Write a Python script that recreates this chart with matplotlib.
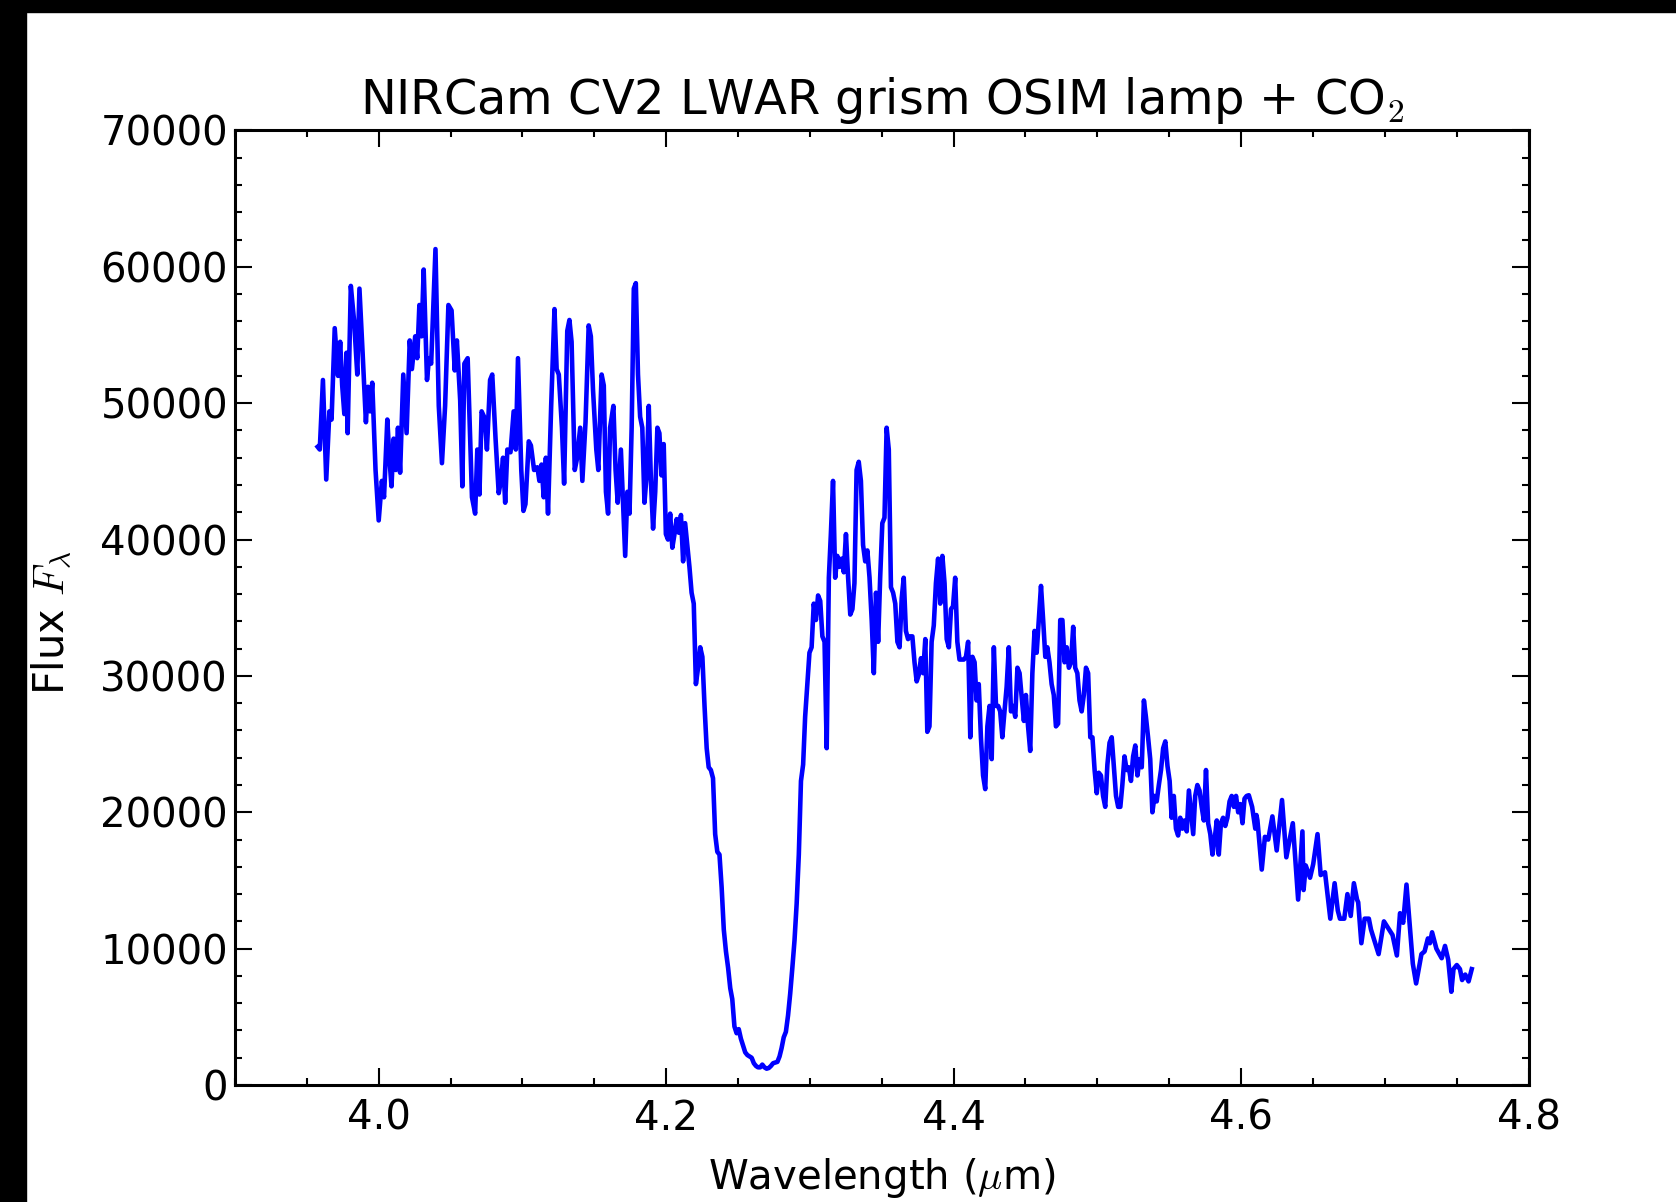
import matplotlib
matplotlib.use("Agg")
import matplotlib.pyplot as plt
from matplotlib.patches import Rectangle
from matplotlib.ticker import MultipleLocator

# Espectro (longitud de onda en micrones, flujo)
wavelength = [
    3.9575, 3.9590, 3.9612, 3.9635, 3.9657, 3.9672, 3.9694, 3.9717, 3.9732, 3.9746,
    3.9761, 3.9776, 3.9784, 3.9806, 3.9829, 3.9851, 3.9866, 3.9888, 3.9911, 3.9925,
    3.9940, 3.9955, 3.9978, 4.0000, 4.0022, 4.0037, 4.0060, 4.0075, 4.0089, 4.0104,
    4.0119, 4.0134, 4.0149, 4.0171, 4.0194, 4.0216, 4.0231, 4.0254, 4.0268, 4.0283,
    4.0298, 4.0313, 4.0336, 4.0350, 4.0365, 4.0395, 4.0418, 4.0440, 4.0462, 4.0485,
    4.0507, 4.0529, 4.0544, 4.0567, 4.0582, 4.0596, 4.0619, 4.0649, 4.0671, 4.0686,
    4.0701, 4.0716, 4.0738, 4.0753, 4.0775, 4.0790, 4.0813, 4.0835, 4.0850, 4.0865,
    4.0880, 4.0895, 4.0917, 4.0939, 4.0954, 4.0969, 4.0992, 4.1007, 4.1021, 4.1044,
    4.1059, 4.1081, 4.1104, 4.1118, 4.1133, 4.1148, 4.1163, 4.1178, 4.1200, 4.1223,
    4.1238, 4.1253, 4.1275, 4.1290, 4.1312, 4.1327, 4.1342, 4.1364, 4.1379, 4.1402,
    4.1417, 4.1439, 4.1461, 4.1476, 4.1491, 4.1514, 4.1528, 4.1551, 4.1566, 4.1581,
    4.1596, 4.1610, 4.1633, 4.1648, 4.1663, 4.1685, 4.1700, 4.1715, 4.1730, 4.1745,
    4.1760, 4.1775, 4.1789, 4.1804, 4.1819, 4.1834, 4.1849, 4.1864, 4.1879, 4.1894,
    4.1909, 4.1924, 4.1939, 4.1953, 4.1968, 4.1983, 4.1998, 4.2013, 4.2028, 4.2043,
    4.2058, 4.2073, 4.2088, 4.2103, 4.2118, 4.2132, 4.2147, 4.2162, 4.2177, 4.2192,
    4.2207, 4.2222, 4.2237, 4.2252, 4.2267, 4.2282, 4.2296, 4.2311, 4.2326, 4.2341,
    4.2356, 4.2371, 4.2386, 4.2401, 4.2416, 4.2431, 4.2446, 4.2460, 4.2475, 4.2490,
    4.2505, 4.2520, 4.2535, 4.2550, 4.2565, 4.2580, 4.2595, 4.2610, 4.2625, 4.2639,
    4.2654, 4.2669, 4.2684, 4.2699, 4.2714, 4.2729, 4.2744, 4.2759, 4.2774, 4.2789,
    4.2803, 4.2818, 4.2833, 4.2848, 4.2863, 4.2878, 4.2893, 4.2908, 4.2923, 4.2938,
    4.2953, 4.2967, 4.2982, 4.2997, 4.3012, 4.3027, 4.3042, 4.3057, 4.3072, 4.3087,
    4.3102, 4.3117, 4.3132, 4.3146, 4.3161, 4.3176, 4.3191, 4.3206, 4.3221, 4.3236,
    4.3251, 4.3266, 4.3281, 4.3296, 4.3310, 4.3325, 4.3340, 4.3355, 4.3370, 4.3385,
    4.3400, 4.3415, 4.3430, 4.3445, 4.3460, 4.3475, 4.3489, 4.3504, 4.3519, 4.3534,
    4.3549, 4.3564, 4.3579, 4.3594, 4.3609, 4.3624, 4.3639, 4.3653, 4.3668, 4.3683,
    4.3698, 4.3713, 4.3728, 4.3743, 4.3758, 4.3773, 4.3788, 4.3803, 4.3817, 4.3832,
    4.3847, 4.3862, 4.3877, 4.3892, 4.3907, 4.3922, 4.3937, 4.3952, 4.3967, 4.3982,
    4.3996, 4.4011, 4.4026, 4.4041, 4.4056, 4.4071, 4.4086, 4.4101, 4.4116, 4.4131,
    4.4146, 4.4160, 4.4175, 4.4190, 4.4205, 4.4220, 4.4235, 4.4250, 4.4265, 4.4280,
    4.4295, 4.4310, 4.4324, 4.4339, 4.4354, 4.4369, 4.4384, 4.4399, 4.4414, 4.4429,
    4.4444, 4.4459, 4.4474, 4.4489, 4.4503, 4.4518, 4.4533, 4.4548, 4.4563, 4.4578,
    4.4593, 4.4608, 4.4623, 4.4638, 4.4652, 4.4667, 4.4682, 4.4697, 4.4712, 4.4727,
    4.4742, 4.4757, 4.4772, 4.4787, 4.4802, 4.4817, 4.4832, 4.4846, 4.4861, 4.4876,
    4.4891, 4.4906, 4.4921, 4.4936, 4.4951, 4.4966, 4.4981, 4.4996, 4.5010, 4.5025,
    4.5040, 4.5055, 4.5070, 4.5085, 4.5100, 4.5115, 4.5130, 4.5145, 4.5160, 4.5174,
    4.5189, 4.5204, 4.5219, 4.5234, 4.5249, 4.5264, 4.5279, 4.5294, 4.5309, 4.5324,
    4.5338, 4.5353, 4.5368, 4.5383, 4.5398, 4.5413, 4.5428, 4.5443, 4.5458, 4.5473,
    4.5488, 4.5503, 4.5517, 4.5532, 4.5547, 4.5562, 4.5577, 4.5592, 4.5607, 4.5622,
    4.5637, 4.5652, 4.5667, 4.5681, 4.5696, 4.5711, 4.5726, 4.5741, 4.5756, 4.5771,
    4.5786, 4.5801, 4.5816, 4.5831, 4.5845, 4.5860, 4.5875, 4.5890, 4.5905, 4.5920,
    4.5935, 4.5950, 4.5965, 4.5980, 4.5995, 4.6010, 4.6024, 4.6039, 4.6054, 4.6077,
    4.6099, 4.6107, 4.6114, 4.6144, 4.6166, 4.6189, 4.6218, 4.6248, 4.6285, 4.6315,
    4.6360, 4.6397, 4.6427, 4.6435, 4.6450, 4.6480, 4.6502, 4.6532, 4.6554, 4.6584,
    4.6621, 4.6651, 4.6673, 4.6688, 4.6718, 4.6740, 4.6763, 4.6785, 4.6807, 4.6815,
    4.6837, 4.6860, 4.6889, 4.6904, 4.6957, 4.6994, 4.7024, 4.7054, 4.7084, 4.7106,
    4.7128, 4.7151, 4.7195, 4.7218, 4.7255, 4.7277, 4.7300, 4.7314, 4.7329, 4.7359,
    4.7396, 4.7419, 4.7441, 4.7463, 4.7478, 4.7501, 4.7523, 4.7538, 4.7560, 4.7583,
    4.7605,
]

flux = [
    46800, 46600, 51700, 44400, 49400, 48800, 55500, 52000, 54500, 51300,
    49200, 53700, 47800, 58600, 56000, 52100, 58400, 53700, 48600, 51200,
    49400, 51500, 45100, 41400, 44300, 43100, 48800, 45900, 43900, 47400,
    45100, 48200, 44900, 52100, 47800, 54600, 52500, 54900, 53300, 57200,
    54900, 59800, 51700, 53300, 52900, 61300, 49800, 45600, 49800, 57200,
    56800, 52400, 54600, 50200, 43900, 52900, 53300, 43100, 41900, 46600,
    43300, 49400, 48900, 46600, 51700, 52100, 47400, 43400, 44300, 46000,
    42700, 46600, 46400, 49400, 46600, 53300, 45100, 42100, 42600, 47200,
    46900, 45100, 45300, 44300, 45500, 43100, 46000, 41900, 49800, 56900,
    52500, 52100, 48200, 44100, 55300, 56100, 54500, 45100, 45900, 48200,
    44300, 48600, 55700, 54900, 51000, 46600, 45100, 52100, 51300, 43500,
    41900, 48200, 49800, 45100, 42700, 46600, 42700, 38800, 43500, 41900,
    48200, 58400, 58800, 52100, 49000, 48200, 42700, 44700, 49800, 44300,
    40800, 43500, 48200, 47800, 44700, 47000, 40400, 40000, 41900, 39400,
    40400, 41500, 40500, 41800, 38400, 41200, 39600, 38000, 36100, 35300,
    29400, 30600, 32100, 31400, 27800, 24700, 23300, 23100, 22500, 18400,
    17100, 16900, 14500, 11400, 9800, 8600, 7100, 6300, 4300, 3800,
    4100, 3400, 2900, 2400, 2200, 2100, 2000, 1600, 1400, 1300,
    1300, 1500, 1300, 1200, 1250, 1400, 1600, 1650, 1700, 2100,
    2700, 3500, 3900, 5100, 6700, 8600, 10600, 13300, 16900, 22300,
    23500, 27000, 29400, 31700, 32100, 35300, 34100, 35900, 35500, 32900,
    32500, 24700, 37200, 40400, 44300, 37200, 38800, 38000, 38600, 37600,
    40400, 37200, 34500, 34900, 36800, 45100, 45700, 44300, 39600, 38400,
    39200, 37200, 34100, 30200, 36100, 32500, 37200, 41200, 41600, 48200,
    46600, 36500, 36100, 35300, 32500, 32100, 35700, 37200, 33300, 32700,
    32900, 32900, 31000, 29600, 30100, 31300, 30200, 32700, 25900, 26300,
    32500, 33700, 36800, 38600, 35300, 38800, 36800, 32700, 32100, 34900,
    35100, 37200, 32500, 31200, 31200, 31200, 31400, 32500, 25500, 31400,
    31000, 28200, 29400, 25500, 22700, 21700, 26300, 27800, 23900, 32100,
    27800, 27800, 27400, 25500, 27400, 29200, 32100, 27400, 27800, 27000,
    30600, 30200, 28400, 26700, 28600, 26300, 24500, 30200, 33300, 31700,
    34100, 36600, 34100, 31400, 32100, 31000, 29400, 28600, 26300, 26500,
    34100, 34100, 31000, 32100, 30600, 31000, 33600, 30600, 30200, 28200,
    27400, 28600, 30600, 30200, 25500, 25500, 23100, 21400, 22900, 22700,
    21200, 20400, 23500, 25100, 25500, 23300, 21200, 20400, 20400, 22000,
    24100, 23100, 23300, 22300, 24100, 24900, 22700, 23900, 23300, 28200,
    27000, 25500, 23900, 20000, 21200, 20800, 22000, 23100, 24700, 25200,
    23400, 22300, 19600, 21200, 18800, 18300, 19600, 18800, 19400, 18600,
    21600, 20000, 18400, 21200, 22000, 21600, 20400, 19400, 23100, 19200,
    18400, 16900, 18000, 19400, 16900, 19200, 19600, 19000, 19600, 20800,
    21200, 20400, 21200, 20000, 20600, 19200, 21000, 21200, 21250, 20400,
    18800, 19800, 19400, 15800, 18200, 18000, 19700, 17200, 20900, 16700,
    19200, 13600, 18600, 14300, 16100, 15200, 16200, 18400, 15400, 15600,
    12200, 14800, 12800, 12200, 12200, 14000, 12400, 14800, 13600, 13400,
    10400, 12200, 12200, 11400, 9600, 12000, 11500, 11000, 9500, 12600,
    11900, 14700, 8900, 7450, 9600, 9800, 10750, 10400, 11200, 10000,
    9300, 10200, 9200, 6840, 8500, 8800, 8500, 7700, 8100, 7600,
    8500,
]

x_min, x_max = 3.9, 4.8
y_min, y_max = 0, 70000

plt.rcParams['mathtext.fontset'] = 'cm'
plt.rcParams['font.family'] = 'DejaVu Sans'

fig = plt.figure(figsize=(16.76, 12.02), dpi=100)
ax = fig.add_axes([0.1402, 0.0973, 0.7718, 0.7942])

ax.plot(wavelength, flux, color='blue', lw=3.3)

ax.set_xlim(x_min, x_max)
ax.set_ylim(y_min, y_max)
ax.xaxis.set_major_locator(MultipleLocator(0.2))
ax.xaxis.set_minor_locator(MultipleLocator(0.05))
ax.yaxis.set_major_locator(MultipleLocator(10000))
ax.yaxis.set_minor_locator(MultipleLocator(2000))
ax.tick_params(which='both', direction='in', top=True, right=True,
               labelsize=29, width=1.5)
ax.tick_params(axis='y', pad=5)
ax.tick_params(axis='x', pad=10)
ax.tick_params(which='major', length=12)
ax.tick_params(which='minor', length=5)
for s in ax.spines.values():
    s.set_linewidth(2.2)

ax.set_title('NIRCam CV2 LWAR grism OSIM lamp + CO$_2$', fontsize=34.5, pad=12)
ax.set_xlabel(r'Wavelength ($\mu$m)', fontsize=29, labelpad=12)
ax.set_ylabel(r'Flux $F_\lambda$', fontsize=30)
ax.yaxis.set_label_coords(-0.125, 0.484)

# bordes negros de la captura original
fig.add_artist(Rectangle((0, 1 - 12 / 1202), 1, 12 / 1202,
                         transform=fig.transFigure, color='black', zorder=10))
fig.add_artist(Rectangle((0, 0), 26 / 1676, 1,
                         transform=fig.transFigure, color='black', zorder=10))

fig.savefig('out.png', dpi=100, facecolor='white')
